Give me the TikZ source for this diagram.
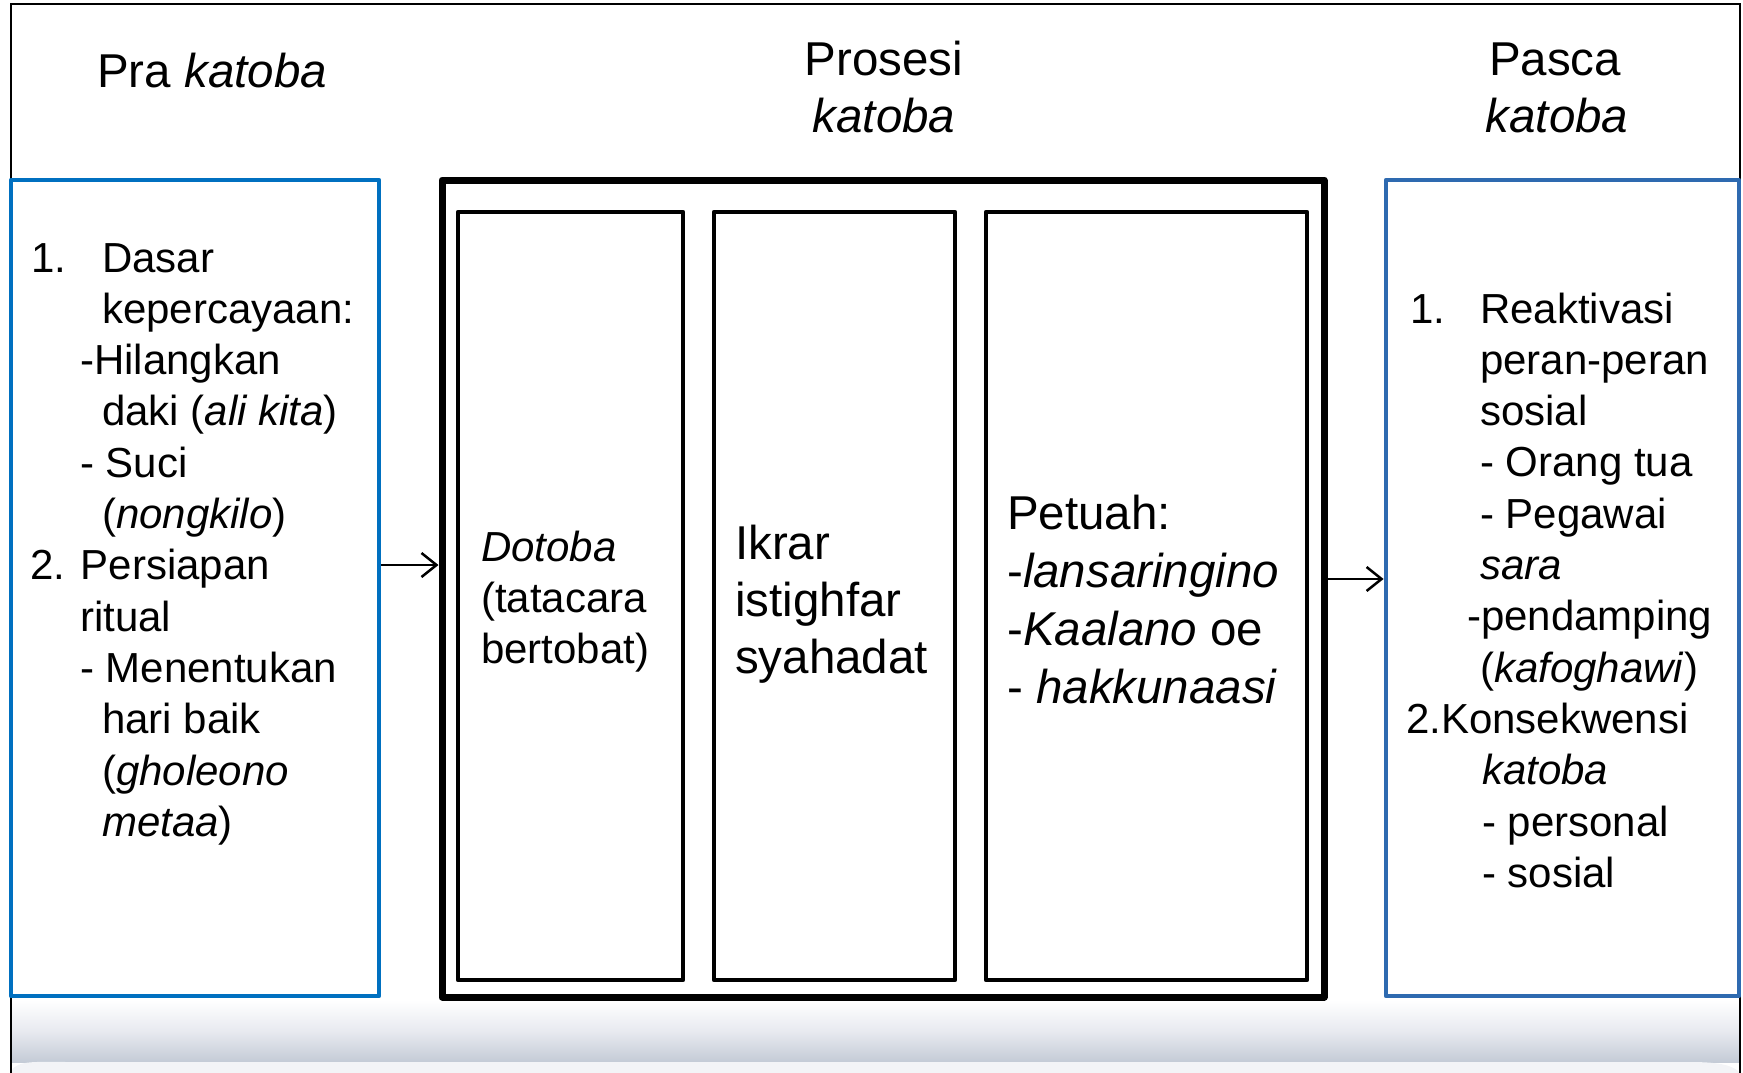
\documentclass[tikz,border=0pt]{standalone}
\usepackage{fontspec}
\setmainfont{Liberation Sans}
\usetikzlibrary{arrows.meta}
\definecolor{bluL}{RGB}{0,112,192}
\definecolor{bluR}{RGB}{46,106,176}
\definecolor{bandgray}{RGB}{196,203,214}
\definecolor{bandmid}{RGB}{232,234,240}
\definecolor{bandlight}{RGB}{243,244,247}
\begin{document}
\begin{tikzpicture}[x=1pt,y=-1pt,
  tA/.style={anchor=base west, inner sep=0pt, font=\fontsize{42}{51}\selectfont},
  tB/.style={anchor=base west, inner sep=0pt, font=\fontsize{47.5}{57}\selectfont},
  tT/.style={anchor=base, inner sep=0pt, font=\fontsize{47.5}{58}\selectfont},
  bluebox/.style={draw, line width=4.8pt, line join=round, anchor=north west, inner sep=0pt, outer sep=0pt},
  bigbox/.style={draw, line width=7pt, line join=round, anchor=north west, inner sep=0pt, outer sep=0pt},
  innerbox/.style={draw, line width=4.5pt, line join=round, anchor=north west, inner sep=0pt, outer sep=0pt},
  arr/.style={line width=2pt, -{Straight Barb[length=15pt,width=24pt,line width=2.5pt]}}]
\useasboundingbox (0,0) rectangle (1743,1073);
% bottom band
\shade[top color=white, bottom color=bandgray, middle color=bandmid] (11,1000) rectangle (1740,1062);
\fill[bandlight] (11,1073) -- (11,1071) .. controls (18,1060) and (35,1062) .. (70,1062) -- (1690,1062) .. controls (1722,1062) and (1734,1066) .. (1740,1073) -- cycle;
% frame
\draw[line width=2pt] (11,1073) -- (11,4.5) -- (1740,4.5) -- (1740,1073);
% boxes
\node[bluebox, draw=bluL, minimum width=368pt, minimum height=816pt] (pra) at (11,180) {};
\node[bluebox, draw=bluR, minimum width=353pt, minimum height=816pt] (pasca) at (1386,180) {};
\node[bigbox, minimum width=882pt, minimum height=817pt] (pros) at (442,180) {};
\node[innerbox, minimum width=225pt, minimum height=768pt] (d1) at (458,212) {};
\node[innerbox, minimum width=241pt, minimum height=768pt] (d2) at (714,212) {};
\node[innerbox, minimum width=321pt, minimum height=768pt] (d3) at (986,212) {};
% arrows
\coordinate (a1) at (0,565);
\coordinate (a2) at (0,579);
\draw[arr, shorten <=2.4pt, shorten >=3.5pt] (pra.east |- a1) -- (pros.west |- a1);
\draw[arr, shorten <=3.5pt, shorten >=2.4pt] (pros.east |- a2) -- (pasca.west |- a2);
% titles
\node[tT, anchor=base west] (t1) at (97,88) {Pra \textit{katoba}};
\node[tT] (t2a) at (884,75) {Prosesi};
\node[tT] (t2b) at (884,132) {\textit{katoba}};
\node[tT] (t3a) at (1555,75) {Pasca};
\node[tT] (t3b) at (1557,132) {\textit{katoba}};
% left box text
\node[tA] (l1n) at (31,272) {1.};
\node[tA] (l1) at (102,272) {Dasar};
\node[tA] (l2) at (102,323.3) {kepercayaan:};
\node[tA] (l3) at (80,374.6) {-Hilangkan};
\node[tA] (l4) at (102,425.9) {daki (\textit{ali kita})};
\node[tA] (l5) at (80,477.2) {- Suci};
\node[tA] (l6) at (102,528.5) {(\textit{nongkilo})};
\node[tA] (l7) at (30,579.8) {2. Persiapan};
\node[tA] (l8) at (80,631.1) {ritual};
\node[tA] (l9) at (80,682.4) {- Menentukan};
\node[tA] (l10) at (102,733.7) {hari baik};
\node[tA] (l11) at (102,785) {(\textit{gholeono}};
\node[tA] (l12) at (102,836.3) {\textit{metaa})};
% right box text
\node[tA] (r1n) at (1410,323) {1.};
\node[tA] (r1) at (1480,323) {Reaktivasi};
\node[tA] (r2) at (1480,374.3) {peran-peran};
\node[tA] (r3) at (1480,425.6) {sosial};
\node[tA] (r4) at (1480,476.9) {- Orang tua};
\node[tA] (r5) at (1480,528.2) {- Pegawai};
\node[tA] (r6) at (1480,579.5) {\textit{sara}};
\node[tA] (r7) at (1467,630.8) {-pendamping};
\node[tA] (r8) at (1480,682.1) {(\textit{kafoghawi})};
\node[tA] (r9) at (1406,733.4) {2.Konsekwensi};
\node[tA] (r10) at (1482,784.7) {\textit{katoba}};
\node[tA] (r11) at (1482,836) {- personal};
\node[tA] (r12) at (1482,887.3) {- sosial};
% middle texts
\node[tA] (m1a) at (481,561) {\textit{Dotoba}};
\node[tA] (m1b) at (481,612) {(tatacara};
\node[tA] (m1c) at (481,663) {bertobat)};
\node[tB] (m2a) at (735,559) {Ikrar};
\node[tB] (m2b) at (735,616) {istighfar};
\node[tB] (m2c) at (735,673) {syahadat};
\node[tB] (m3a) at (1007,529) {Petuah:};
\node[tB] (m3b) at (1007,587) {-\textit{lansaringino}};
\node[tB] (m3c) at (1007,645) {-\textit{Kaalano} oe};
\node[tB] (m3d) at (1007,703) {- \textit{hakkunaasi}};
\end{tikzpicture}
\end{document}
